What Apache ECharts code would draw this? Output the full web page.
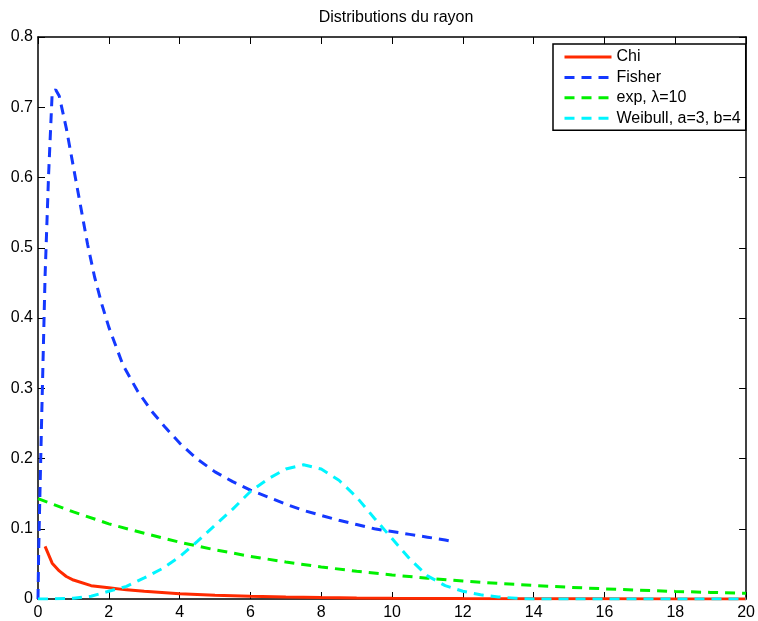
<!DOCTYPE html>
<html>
<head>
<meta charset="utf-8">
<script src="https://cdn.jsdelivr.net/npm/echarts@6/dist/echarts.min.js"></script>
<style>
  html, body { margin: 0; padding: 0; background: #fff; }
  #chart { width: 758px; height: 621px; }
</style>
</head>
<body>
<div id="chart"></div>
<script>
// Axis ticks
const xTicks = [0, 2, 4, 6, 8, 10, 12, 14, 16, 18, 20];
const yTicks = [0, 0.1, 0.2, 0.3, 0.4, 0.5, 0.6, 0.7, 0.8];

// Chi
const chiX = [0.2, 0.4, 0.6, 0.8, 1.0, 1.5, 2.0, 2.5, 3.0, 4.0, 5.0, 6.0, 7.0, 8.0, 9.0, 10.0, 12.0, 14.0, 16.0, 18.0, 20.0];
const chiY = [0.075, 0.051, 0.040, 0.032, 0.027, 0.019, 0.016, 0.013, 0.011, 0.0075, 0.0055, 0.004, 0.003, 0.0022, 0.0016, 0.0012, 0.0007, 0.0004, 0.0002, 0.0001, 0.0001];

// Fisher
const fisherX = [0, 0.02, 0.05, 0.1, 0.2, 0.3, 0.4, 0.5, 0.6, 0.8, 1.0, 1.2, 1.4, 1.6, 1.8, 2.0, 2.4, 2.8, 3.2, 3.6, 4.0, 4.5, 5.0, 5.5, 6.0, 6.5, 7.0, 7.5, 8.0, 8.5, 9.0, 9.5, 10.0, 10.5, 11.0, 11.5, 11.7];
const fisherY = [0, 0.07, 0.14, 0.25, 0.46, 0.605, 0.72, 0.725, 0.716, 0.67, 0.615, 0.56, 0.505, 0.458, 0.42, 0.387, 0.333, 0.297, 0.268, 0.244, 0.222, 0.199, 0.181, 0.167, 0.155, 0.145, 0.135, 0.126, 0.119, 0.112, 0.106, 0.100, 0.096, 0.092, 0.088, 0.084, 0.082];

// Exponential, lambda = 10
const expX = [0, 1, 2, 3, 4, 5, 6, 7, 8, 9, 10, 11, 12, 13, 14, 15, 16, 17, 18, 19, 20];
const expY = [0.143, 0.124, 0.107, 0.0935, 0.0808, 0.0700, 0.0607, 0.0526, 0.0456, 0.0395, 0.0342, 0.0296, 0.0257, 0.0222, 0.0193, 0.0167, 0.0145, 0.0125, 0.0108, 0.0094, 0.0082];

// Weibull, a = 3, b = 4
const weibullX = [0, 0.5, 1.0, 1.5, 2.0, 2.5, 3.0, 3.5, 4.0, 4.5, 5.0, 5.5, 6.0, 6.5, 7.0, 7.5, 8.0, 8.5, 9.0, 9.5, 10.0, 10.5, 11.0, 11.5, 12.0, 12.5, 13.0, 13.5, 14.0, 16.0, 18.0, 20.0];
const weibullY = [0, 0.0002, 0.001, 0.004, 0.011, 0.018, 0.030, 0.043, 0.060, 0.082, 0.105, 0.128, 0.153, 0.171, 0.185, 0.191, 0.185, 0.169, 0.145, 0.115, 0.086, 0.057, 0.033, 0.019, 0.011, 0.006, 0.003, 0.001, 0, 0, 0, 0];

const seriesNames = ['Chi', 'Fisher', 'exp, \u03bb=10', 'Weibull, a=3, b=4'];

function pairs(xs, ys) {
  return xs.map((x, i) => [x, ys[i]]);
}

const FONT = '"Liberation Sans", Arial, Helvetica, sans-serif';
const axisLine = { show: true, onZero: false, lineStyle: { color: '#000', width: 1.5 } };
const tick = { show: true, inside: true, length: 7, lineStyle: { color: '#000', width: 1 } };
const label = { color: '#000', fontSize: 16, fontFamily: FONT, margin: 6 };

function lineSeries(name, data, color, dashed) {
  return {
    name: name,
    type: 'line',
    data: data,
    symbol: 'none',
    showSymbol: false,
    smooth: false,
    animation: false,
    lineStyle: { color: color, width: 3, type: dashed ? [10, 7] : 'solid', cap: 'butt' },
    itemStyle: { color: color }
  };
}

const chart = echarts.init(document.getElementById('chart'), null, { renderer: 'canvas' });
chart.setOption({
  animation: false,
  backgroundColor: '#fff',
  title: {
    text: 'Distributions du rayon',
    left: 396, top: 10, padding: 0, textAlign: 'center',
    textStyle: { color: '#000', fontSize: 16, fontWeight: 'normal', fontFamily: FONT }
  },
  grid: { left: 38, right: 5, top: 37, bottom: 20, containLabel: false },
  legend: {
    data: seriesNames,
    orient: 'vertical',
    left: 553, top: 44,
    itemWidth: 47, itemHeight: 14, itemGap: 4.4,
    padding: [5, 5, 4, 10],
    borderColor: '#000', borderWidth: 1.5,
    backgroundColor: '#fff',
    itemStyle: { opacity: 0 },
    lineStyle: { width: 3 },
    textStyle: { color: '#000', fontSize: 16, fontFamily: FONT }
  },
  xAxis: [
    {
      type: 'value', min: xTicks[0], max: xTicks[xTicks.length - 1], interval: xTicks[1] - xTicks[0],
      position: 'bottom', axisLine: axisLine, axisTick: tick, splitLine: { show: false },
      axisLabel: Object.assign({}, label, { showMaxLabel: true, hideOverlap: false })
    },
    {
      type: 'value', min: xTicks[0], max: xTicks[xTicks.length - 1], interval: xTicks[1] - xTicks[0],
      position: 'top', axisLine: axisLine, axisTick: tick, splitLine: { show: false },
      axisLabel: { show: false }
    }
  ],
  yAxis: [
    {
      type: 'value', min: yTicks[0], max: yTicks[yTicks.length - 1], interval: 0.1,
      position: 'left', axisLine: axisLine, axisTick: tick, splitLine: { show: false },
      axisLabel: Object.assign({}, label, {
        margin: 5,
        formatter: v => (Math.abs(v) < 1e-9 ? '0' : v.toFixed(1))
      })
    },
    {
      type: 'value', min: yTicks[0], max: yTicks[yTicks.length - 1], interval: 0.1,
      position: 'right', axisLine: axisLine, axisTick: tick, splitLine: { show: false },
      axisLabel: { show: false }
    }
  ],
  series: [
    lineSeries(seriesNames[0], pairs(chiX, chiY), '#ff2a00', false),
    lineSeries(seriesNames[1], pairs(fisherX, fisherY), '#1438ff', true),
    lineSeries(seriesNames[2], pairs(expX, expY), '#00f000', true),
    lineSeries(seriesNames[3], pairs(weibullX, weibullY), '#00f5ff', true)
  ]
});
</script>
</body>
</html>
